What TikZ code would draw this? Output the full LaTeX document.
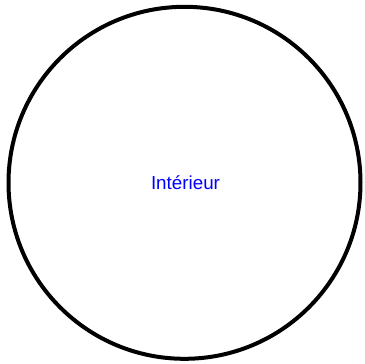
\documentclass[tikz,border=0pt]{standalone}
\usepackage{fontspec}
\setmainfont{Liberation Sans}
\begin{document}
\begin{tikzpicture}[x=1pt,y=-1pt,
  ring/.style={draw=black,line width=4pt,circle,minimum size=352pt,inner sep=0pt},
  label/.style={text=blue,font=\fontsize{18.8}{22}\selectfont,inner sep=0pt}]
\useasboundingbox (0,0) rectangle (365,364);
\node[ring] (c) at (184.5,182.8) {};
\node[label] (t) at (185.5,183) {Intérieur};
\end{tikzpicture}
\end{document}
